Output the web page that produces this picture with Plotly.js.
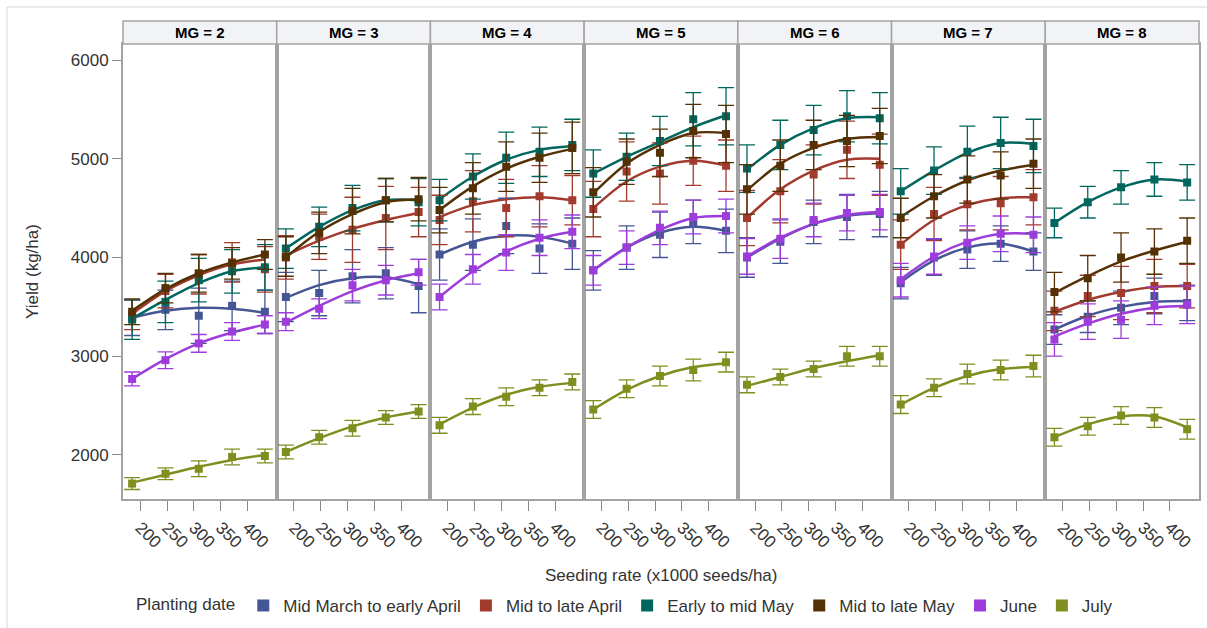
<!DOCTYPE html>
<html><head><meta charset="utf-8">
<script src="https://cdn.plot.ly/plotly-3.0.1.min.js"></script>
<style>html,body{margin:0;padding:0;background:#fff}#chart{width:1207px;height:628px}</style>
</head><body><div id="chart"></div>
<script>
// ---------- data ----------
const panels = ['MG = 2', 'MG = 3', 'MG = 4', 'MG = 5', 'MG = 6', 'MG = 7', 'MG = 8'];
const seedingRate = [185, 247, 309, 371, 432];
const xTicks = [200, 250, 300, 350, 400];
const yTicks = [2000, 3000, 4000, 5000, 6000];
const seriesNames = ['Mid March to early April', 'Mid to late April', 'Early to mid May', 'Mid to late May', 'June', 'July'];

// Mid March to early April
const marchMean = [[3390,3470,3410,3510,3450],[3600,3640,3810,3840,3710],[4030,4130,4320,4090,4140],[3870,4100,4230,4360,4270],[4000,4160,4360,4410,4440],[3740,4000,4080,4140,4060],[3270,3400,3490,3610,3540]];
const marchFit  = [[3390,3460,3490,3480,3440],[3590,3720,3790,3800,3730],[4030,4160,4220,4210,4140],[3870,4100,4250,4310,4270],[4000,4190,4340,4420,4450],[3750,3970,4100,4140,4060],[3270,3410,3500,3550,3560]];
const marchErr  = [[180,200,280,250,220],[250,230,270,260,270],[260,260,280,250,260],[200,220,230,220,220],[200,220,220,230,230],[160,180,190,180,190],[150,160,170,180,180]];
// Mid to late April
const aprilMean = [[3420,3660,3830,3950,3880],[4000,4210,4280,4400,4460],[4380,4570,4500,4620,4580],[4490,4870,4850,4980,4930],[4400,4670,4840,5090,4940],[4130,4440,4540,4550,4610],[3460,3610,3640,3710,3710]];
const aprilFit  = [[3430,3660,3820,3930,3980],[4020,4170,4290,4380,4450],[4410,4530,4590,4610,4580],[4500,4770,4920,4980,4930],[4400,4690,4880,4990,5000],[4130,4380,4530,4600,4610],[3450,3570,3650,3700,3710]];
const aprilErr  = [[150,170,200,200,230],[220,230,330,320,250],[250,310,290,310,250],[280,300,310,250,260],[280,320,300,290,310],[250,270,260,270,280],[200,210,270,270,220]];
// Early to mid May
const earlyMayMean = [[3370,3550,3770,3860,3900],[4090,4310,4500,4580,4560],[4580,4820,5010,5070,5140],[4850,5020,5180,5400,5430],[4900,5140,5290,5430,5410],[4670,4880,5070,5160,5130],[4350,4560,4710,4790,4760]];
const earlyMayFit  = [[3380,3570,3740,3860,3900],[4090,4310,4480,4580,4580],[4590,4820,4990,5090,5130],[4850,5020,5170,5320,5440],[4890,5140,5310,5410,5420],[4670,4880,5060,5160,5150],[4350,4560,4710,4790,4770]];
const earlyMayErr  = [[200,210,220,220,230],[200,200,230,220,240],[210,230,260,250,260],[240,240,250,270,290],[240,250,250,260,260],[230,240,260,260,270],[150,160,170,170,180]];
// Mid to late May
const lateMayMean = [[3450,3690,3840,3940,4030],[4010,4250,4470,4580,4590],[4480,4700,4920,5010,5110],[4660,4970,5060,5280,5250],[4690,4930,5140,5180,5230],[4400,4620,4790,4830,4950],[3650,3790,4000,4060,4170]];
const lateMayFit  = [[3460,3680,3840,3950,4030],[4000,4260,4440,4560,4590],[4480,4720,4900,5020,5100],[4650,4950,5140,5260,5260],[4680,4950,5110,5200,5220],[4410,4620,4780,4880,4940],[3640,3810,3960,4070,4160]];
const lateMayErr  = [[130,150,190,160,150],[200,210,230,220,220],[230,260,250,250,260],[250,230,240,270,290],[250,260,250,260,280],[200,220,240,240,250],[200,230,250,230,230]];
// June
const juneMean = [[2770,2960,3130,3250,3320],[3350,3480,3720,3770,3850],[3600,3880,4050,4200,4260],[3870,4100,4300,4410,4420],[4010,4190,4380,4450,4460],[3770,4010,4150,4240,4230],[3170,3350,3370,3510,3520]];
const juneFit  = [[2770,2970,3130,3240,3320],[3340,3510,3660,3770,3840],[3600,3860,4060,4190,4260],[3870,4100,4280,4400,4420],[4010,4200,4340,4430,4460],[3780,4010,4160,4240,4240],[3200,3330,3430,3490,3510]];
const juneErr  = [[70,85,90,90,90],[90,100,160,150,130],[130,150,180,180,170],[150,170,170,170,170],[180,200,170,180,180],[170,180,170,180,180],[170,180,190,190,190]];
// July
const julyMean = [[1710,1810,1860,1980,1990],[2030,2180,2270,2380,2440],[2300,2490,2590,2680,2740],[2460,2670,2800,2860,2940],[2710,2790,2870,3000,3000],[2510,2680,2820,2860,2900],[2180,2290,2400,2380,2260]];
const julyFit  = [[1720,1800,1880,1950,2000],[2030,2170,2290,2380,2440],[2310,2480,2610,2690,2730],[2460,2660,2800,2890,2930],[2700,2790,2880,2950,3010],[2510,2680,2800,2870,2890],[2180,2310,2390,2390,2280]];
const julyErr  = [[60,60,80,80,70],[70,70,80,70,70],[80,80,90,80,80],[90,90,100,110,100],[80,80,80,100,100],[90,90,100,100,110],[90,90,90,100,100]];

const colors = ['#445694', '#A23A2E', '#01665E', '#543005', '#9D3CDB', '#7F8E1F'];
// ---------- build ----------
const series = [
  [marchMean, marchFit, marchErr],
  [aprilMean, aprilFit, aprilErr],
  [earlyMayMean, earlyMayFit, earlyMayErr],
  [lateMayMean, lateMayFit, lateMayErr],
  [juneMean, juneFit, juneErr],
  [julyMean, julyFit, julyErr]
];
const nP = panels.length;
const axSuffix = i => (i === 0 ? '' : String(i + 1));
const lineTraces = [], markerTraces = [];
series.forEach((s, si) => {
  const [mean, fit, err] = s;
  for (let p = 0; p < nP; p++) {
    lineTraces.push({
      type: 'scatter', mode: 'lines', x: seedingRate, y: fit[p],
      xaxis: 'x' + axSuffix(p), yaxis: 'y' + axSuffix(p),
      line: {color: colors[si], width: 2.5, shape: 'spline', smoothing: 1},
      showlegend: false, hoverinfo: 'skip', legendgroup: seriesNames[si]
    });
    markerTraces.push({
      type: 'scatter', mode: 'markers', x: seedingRate, y: mean[p], name: seriesNames[si],
      xaxis: 'x' + axSuffix(p), yaxis: 'y' + axSuffix(p),
      marker: {symbol: 'square', size: 8, color: colors[si]},
      error_y: {type: 'data', array: err[p], visible: true, color: colors[si], thickness: 1.3, width: 8},
      showlegend: p === 0, legendgroup: seriesNames[si]
    });
  }
});

const layout = {
  width: 1207, height: 628,
  margin: {l: 123, r: 8, t: 44, b: 129, pad: 0, autoexpand: false},
  paper_bgcolor: '#ffffff', plot_bgcolor: '#ffffff',
  font: {family: 'Liberation Sans, Arial, sans-serif', size: 17, color: '#333333'},
  showlegend: true,
  legend: {
    orientation: 'h', x: 0.4675, xanchor: 'center', y: -0.235, yanchor: 'middle',
    title: {text: 'Planting date', side: 'left', font: {size: 17, color: '#333333'}},
    font: {size: 17, color: '#333333'}, itemwidth: 30, itemsizing: 'constant', traceorder: 'normal',
    bgcolor: 'rgba(0,0,0,0)'
  },
  annotations: [], shapes: []
};

const pw = 1 / nP;
for (let p = 0; p < nP; p++) {
  const sfx = axSuffix(p);
  layout['xaxis' + sfx] = {
    domain: [p * pw, (p + 1) * pw], anchor: 'y' + sfx,
    range: [168, 454], tickvals: xTicks, ticktext: xTicks.map(String),
    tickangle: 45, ticks: 'outside', ticklen: 10, tickcolor: '#888888', tickwidth: 1,
    tickfont: {size: 17, color: '#333333'}, automargin: false,
    showgrid: false, zeroline: false, showline: true, mirror: true,
    linecolor: '#a3a3a3', linewidth: 2, fixedrange: true
  };
  const ya = {
    anchor: 'x' + sfx, range: [1554, 6162], showgrid: false, zeroline: false, automargin: false,
    showline: true, mirror: true, linecolor: '#a3a3a3', linewidth: 2, fixedrange: true
  };
  if (p === 0) {
    Object.assign(ya, {
      tickvals: yTicks, ticktext: yTicks.map(String), ticks: 'outside', ticklen: 9,
      tickcolor: '#888888', tickwidth: 1, tickfont: {size: 17, color: '#333333'},
      title: {text: 'Yield (kg/ha)', font: {size: 17, color: '#333333'}, standoff: 28}
    });
  } else {
    Object.assign(ya, {matches: 'y', showticklabels: false, ticks: ''});
  }
  layout['yaxis' + sfx] = ya;
  // header strip
  layout.shapes.push({
    type: 'rect', xref: 'paper', yref: 'paper', x0: p * pw, x1: (p + 1) * pw, y0: 1, y1: 1.0505,
    fillcolor: '#f1f3f7', line: {color: '#a3a3a3', width: 1.5}, layer: 'above'
  });
  layout.annotations.push({
    xref: 'paper', yref: 'paper', x: (p + 0.5) * pw, y: 1.0253, xanchor: 'center', yanchor: 'middle',
    text: '<b>' + panels[p] + '</b>', showarrow: false, font: {size: 15, color: '#000000'}
  });
}
layout.annotations.push({
  xref: 'paper', yref: 'paper', x: 0.5, y: -0.169, xanchor: 'center', yanchor: 'middle',
  text: 'Seeding rate (x1000 seeds/ha)', showarrow: false, font: {size: 17, color: '#333333'}
});
// outer frame
layout.shapes.push({
  type: 'rect', xref: 'paper', yref: 'paper', x0: -0.1078, x1: 1.03, y0: -0.33, y1: 1.0813,
  line: {color: '#d6d6d6', width: 1}, fillcolor: 'rgba(0,0,0,0)', layer: 'below'
});

Plotly.newPlot('chart', lineTraces.concat(markerTraces), layout, {displayModeBar: false, staticPlot: true});
</script></body></html>
